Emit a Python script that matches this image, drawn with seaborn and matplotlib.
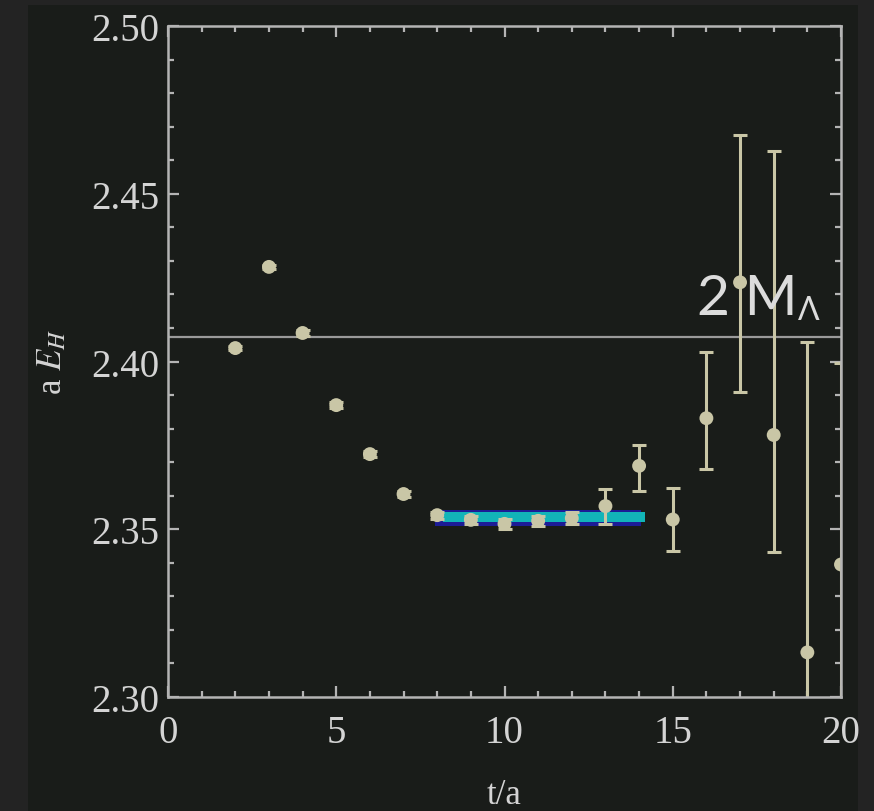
import matplotlib
matplotlib.use("Agg")
import matplotlib.pyplot as plt
from matplotlib.patches import Rectangle
from matplotlib.ticker import MultipleLocator
import numpy as np
import pandas as pd
import seaborn as sns

# ---- data ----
t_vals = [2, 3, 4, 5, 6, 7, 8, 9, 10, 11, 12, 13, 14, 15, 16, 17, 18, 19, 20]
energy = [2.4040, 2.4282, 2.4085, 2.3870, 2.3724, 2.3605, 2.3542, 2.3528, 2.3516,
          2.3525, 2.3533, 2.3569, 2.3689, 2.3529, 2.3831, 2.4236, 2.3781, 2.3133, 2.3395]
err_low = [0.0005, 0.0005, 0.0008, 0.0008, 0.0008, 0.0010, 0.0010, 0.0012, 0.0015,
           0.0015, 0.0018, 0.0054, 0.0075, 0.0093, 0.0151, 0.0328, 0.0350, 0.1000, 0.0600]
err_high = [0.0005, 0.0005, 0.0008, 0.0008, 0.0008, 0.0010, 0.0010, 0.0012, 0.0015,
            0.0015, 0.0018, 0.0051, 0.0062, 0.0094, 0.0196, 0.0439, 0.0846, 0.0926, 0.0600]
threshold = 2.4073            # 2 M_Lambda
fit_band_x = [7.93, 14.07]
fit_band_y = [2.3509, 2.3556]
fit_line_x = [8.17, 14.17]
fit_line_y = [2.3521, 2.3552]

x_ticks = [0, 5, 10, 15, 20]
y_ticks = [2.30, 2.35, 2.40, 2.45, 2.50]
y_tick_labels = ["2.30", "2.35", "2.40", "2.45", "2.50"]

df = pd.DataFrame({"t": t_vals, "E": energy})

# ---- style ----
outer_bg = "#232323"
panel_bg = "#191c19"
pt_col = "#c9c6a6"
axis_col = "#b4b4b4"
text_col = "#d4d4d4"

plt.rcParams["mathtext.fontset"] = "stix"

fig = plt.figure(figsize=(8.74, 8.12), dpi=100, facecolor=outer_bg)
bg_ax = fig.add_axes([28 / 874, 0, (858 - 28) / 874, 1 - 6 / 812], zorder=-10)
bg_ax.set_facecolor(panel_bg)
bg_ax.set_axis_off()
bg_ax.add_patch(Rectangle((0, 0), 1, 1, transform=bg_ax.transAxes,
                          facecolor=panel_bg, edgecolor="none"))

ax = fig.add_axes([168 / 874, 1 - 698 / 812, (841 - 168) / 874, (698 - 27) / 812], zorder=1)
ax.set_facecolor(panel_bg)

# fit band
ax.fill_between(fit_band_x, fit_band_y[0], fit_band_y[1], color="#1c1c96", lw=0, zorder=2)
ax.fill_between(fit_line_x, fit_line_y[0], fit_line_y[1], color="#12b4b8", lw=0, zorder=2.1)

# threshold line
ax.axhline(threshold, color="#9a9a9a", lw=1.6, zorder=1.5)

# error bars
ax.errorbar(t_vals, energy, yerr=[err_low, err_high], fmt="none", ecolor=pt_col,
            elinewidth=2.2, capsize=5, capthick=2.2, zorder=3)
sns.scatterplot(data=df, x="t", y="E", ax=ax, color=pt_col, s=100,
                edgecolor="none", zorder=4, legend=False)

ax.set_xlim(0, 20)
ax.set_ylim(2.30, 2.50)
ax.set_xticks(x_ticks)
ax.set_yticks(y_ticks)
ax.set_yticklabels(y_tick_labels)
ax.xaxis.set_minor_locator(MultipleLocator(1))
ax.yaxis.set_minor_locator(MultipleLocator(0.01))

for s in ax.spines.values():
    s.set_color(axis_col)
    s.set_linewidth(1.8)
    s.set_zorder(5)

ax.tick_params(which="both", direction="in", top=True, right=True, color=axis_col,
               width=1.6)
ax.tick_params(which="major", length=8)
ax.tick_params(which="minor", length=4)
ax.tick_params(axis="x", which="major", pad=12, labelcolor=text_col)
ax.tick_params(axis="y", which="major", pad=6, labelcolor=text_col)
for lab in ax.get_xticklabels() + ax.get_yticklabels():
    lab.set_fontfamily("Liberation Serif")
    lab.set_fontsize(28)

ax.set_xlabel("t/a", fontsize=25, family="Liberation Serif", color=text_col, labelpad=20)
ax.set_ylabel(r"a $E_H$", fontsize=25, family="Liberation Serif", color=text_col, labelpad=16)

# 2 M_Lambda annotation
ax.text(15.72, 2.4142, "2 M", fontsize=41, family="Lato", color="#dcdcdc",
        ha="left", va="baseline", zorder=6, clip_on=False)
ax.text(18.72, 2.4127, "Λ", fontsize=23, family="Lato", color="#dcdcdc",
        ha="left", va="baseline", zorder=6, clip_on=False)

fig.savefig("out.png", dpi=100, facecolor=outer_bg)
